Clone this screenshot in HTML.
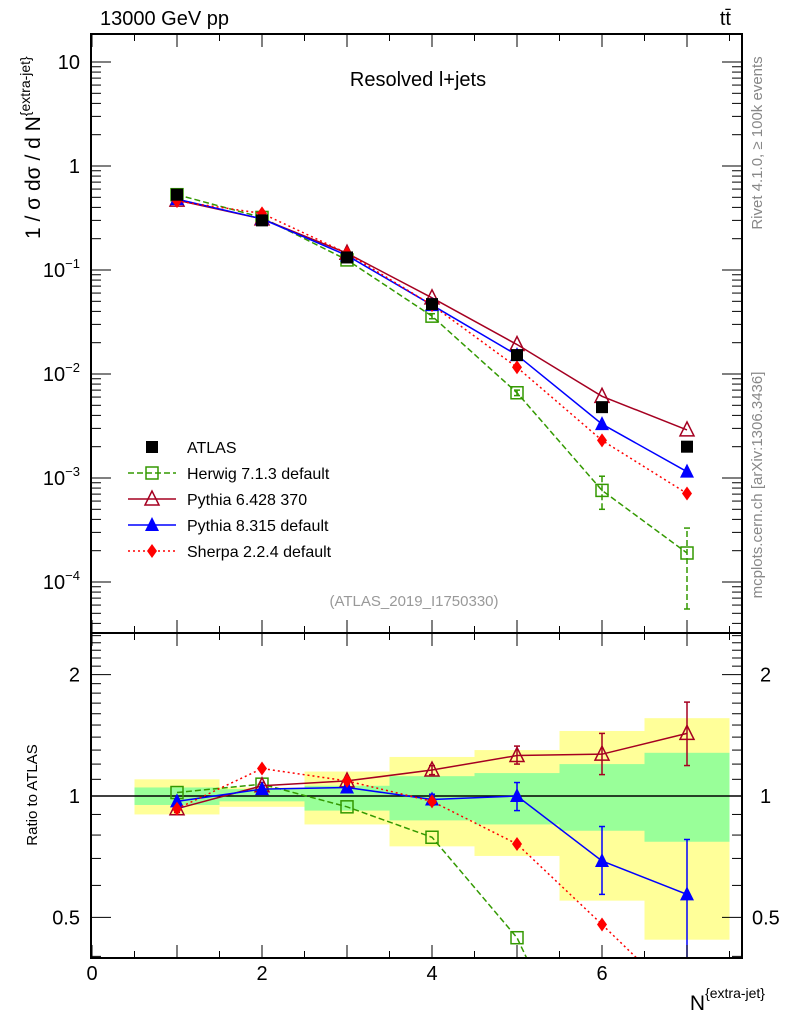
<!DOCTYPE html>
<html><head><meta charset="utf-8"><style>
html,body{margin:0;background:#fff;width:786px;height:1024px;overflow:hidden;}
svg{display:block;font-family:"Liberation Sans",sans-serif;}
</style></head><body>
<svg id="c" width="786" height="1024"></svg>
<script>
const cats=[1,2,3,4,5,6,7];
const atlas=[0.53,0.30,0.132,0.047,0.0152,0.0048,0.0020];
const herwig=[0.53,0.32,0.125,0.036,0.0066,0.00076,0.00019];
const herwigLo=[0.52,0.31,0.12,0.034,0.0062,0.00050,0.000055];
const herwigHi=[0.54,0.33,0.13,0.038,0.0070,0.00104,0.00033];
const py6=[0.47,0.31,0.145,0.054,0.0192,0.0061,0.0029];
const py8=[0.48,0.31,0.138,0.046,0.0152,0.0033,0.00115];
const sherpa=[0.46,0.35,0.145,0.046,0.0116,0.0023,0.00071];
const rHerwig=[1.02,1.07,0.94,0.79,0.445,0.16,0.095];
const rPy6=[0.93,1.06,1.09,1.16,1.26,1.27,1.43];
const rPy6Lo=[0.91,1.04,1.07,1.13,1.20,1.13,1.19];
const rPy6Hi=[0.95,1.08,1.11,1.19,1.33,1.43,1.71];
const rPy8=[0.97,1.04,1.05,0.98,1.0,0.69,0.57];
const rPy8Lo=[0.96,1.03,1.04,0.95,0.92,0.57,0.35];
const rPy8Hi=[0.98,1.05,1.06,1.01,1.08,0.84,0.78];
const rSherpa=[0.93,1.17,1.09,0.97,0.76,0.48,0.30];
const bandYHi=[1.10,1.05,1.15,1.25,1.30,1.45,1.56];
const bandYLo=[0.90,0.94,0.85,0.75,0.71,0.55,0.44];
const bandGHi=[1.05,1.04,1.06,1.12,1.14,1.20,1.28];
const bandGLo=[0.95,0.97,0.92,0.87,0.85,0.82,0.77];
const xTicks=[0,2,4,6];
const yTickVals=[10,1,0.1,0.01,0.001,0.0001];
const yTickLabels=["10","1","10<tspan dy='-9' font-size='13'>−1</tspan>","10<tspan dy='-9' font-size='13'>−2</tspan>","10<tspan dy='-9' font-size='13'>−3</tspan>","10<tspan dy='-9' font-size='13'>−4</tspan>"];
const rTickVals=[2,1,0.5];
const rTickLabels=["2","1","0.5"];

const L=91,R=742,T=34,B=633,RT=633,RB=958;
const X=v=>92+v*85;
const Y=v=>166-104*Math.log10(v);
const RY=v=>796-403*Math.log10(v);
const svg=document.getElementById('c');
const NS='http://www.w3.org/2000/svg';
function mk(tag,attrs,parent,name){const e=document.createElementNS(NS,tag);for(const k in attrs)e.setAttribute(k,attrs[k]);


(parent||svg).appendChild(e);return e;}
function txt(x,y,s,attrs,name){const e=mk('text',Object.assign({x:x,y:y,'font-size':20,fill:'#000'},attrs||{}),svg,name);e.innerHTML=s;return e;}

const defs=mk('defs',{},svg,'defs');
const cp1=mk('clipPath',{id:'cm'},defs,'clip-main');mk('rect',{x:L,y:T,width:R-L,height:B-T},cp1,'clip-rect');
const cp2=mk('clipPath',{id:'cr'},defs,'clip-ratio');mk('rect',{x:L,y:RT,width:R-L,height:RB-RT},cp2,'clip-rect');
const gm=mk('g',{'clip-path':'url(#cm)'},svg,'main-plot-area');
const gr=mk('g',{'clip-path':'url(#cr)'},svg,'ratio-plot-area');

cats.forEach((c,i)=>{
 mk('rect',{x:X(c-0.5),y:RY(bandYHi[i]),width:X(1)-X(0),height:RY(bandYLo[i])-RY(bandYHi[i]),fill:'#ffff99'},gr,'band-total-'+c);
 mk('rect',{x:X(c-0.5),y:RY(bandGHi[i]),width:X(1)-X(0),height:RY(bandGLo[i])-RY(bandGHi[i]),fill:'#99ff99'},gr,'band-stat-'+c);
});
mk('line',{x1:L,x2:R,y1:RY(1),y2:RY(1),stroke:'#000','stroke-width':1.5},gr,'ratio-unity-line');

function marker(g,type,x,y,col,name){
 if(type==='sq') mk('rect',{x:x-6,y:y-6,width:12,height:12,fill:'none',stroke:col,'stroke-width':1.5},g,name);
 else if(type==='fsq') mk('rect',{x:x-6,y:y-6,width:12,height:12,fill:col},g,name);
 else if(type==='otri') mk('polygon',{points:`${x},${y-8} ${x-7},${y+6} ${x+7},${y+6}`,fill:'none',stroke:col,'stroke-width':1.5},g,name);
 else if(type==='tri') mk('polygon',{points:`${x},${y-8} ${x-7},${y+6} ${x+7},${y+6}`,fill:col},g,name);
 else if(type==='dia') mk('polygon',{points:`${x},${y-7} ${x-5},${y} ${x},${y+7} ${x+5},${y}`,fill:col},g,name);
}
function series(g,vals,fy,col,dash,type,name,lo,hi){
 let d='';vals.forEach((v,i)=>{d+=(i?'L':'M')+X(cats[i])+','+fy(v);});
 mk('path',{d:d,fill:'none',stroke:col,'stroke-width':1.5,'stroke-dasharray':dash},g,name+'-line');
 vals.forEach((v,i)=>{
  if(lo&&hi){mk('line',{x1:X(cats[i]),x2:X(cats[i]),y1:fy(lo[i]),y2:fy(hi[i]),stroke:col,'stroke-width':1.5,'stroke-dasharray':dash},g,name+'-err');
   [lo[i],hi[i]].forEach(e=>mk('line',{x1:X(cats[i])-3,x2:X(cats[i])+3,y1:fy(e),y2:fy(e),stroke:col,'stroke-width':1.5},g,name+'-errcap'));}
  marker(g,type,X(cats[i]),fy(v),col,name+'-point');
 });
}
const cH='#339900',c6='#a50021',c8='#0000ff',cS='#ff0000';
series(gm,herwig,Y,cH,'6,3','sq','herwig',herwigLo,herwigHi);
series(gm,py6,Y,c6,'','otri','pythia6');
series(gm,py8,Y,c8,'','tri','pythia8');
series(gm,sherpa,Y,cS,'2,3','dia','sherpa');
atlas.forEach((v,i)=>marker(gm,'fsq',X(cats[i]),Y(v),'#000','atlas-point'));
series(gr,rHerwig,RY,cH,'6,3','sq','ratio-herwig');
series(gr,rPy6,RY,c6,'','otri','ratio-pythia6',rPy6Lo,rPy6Hi);
series(gr,rPy8,RY,c8,'','tri','ratio-pythia8',rPy8Lo,rPy8Hi);
series(gr,rSherpa,RY,cS,'2,3','dia','ratio-sherpa');

mk('rect',{x:L,y:T,width:R-L,height:B-T,fill:'none',stroke:'#000','stroke-width':2},svg,'main-frame');
mk('rect',{x:L,y:RT,width:R-L,height:RB-RT,fill:'none',stroke:'#000','stroke-width':2},svg,'ratio-frame');
for(let k=0;k<=15;k++){const v=k/2,x=X(v),len=k%2?7:13;
 [[T,1],[B,-1],[RT,1],[RB,-1]].forEach(([y,s])=>mk('line',{x1:x,x2:x,y1:y,y2:y+s*len,stroke:'#000','stroke-width':1},svg,'x-tick'));}
xTicks.forEach(v=>txt(X(v),980,String(v),{'text-anchor':'middle'},'x-tick-label'));
for(let e=-5;e<=1;e++)for(let m=1;m<=9;m++){const v=m*Math.pow(10,e),y=Y(v);if(y<T||y>B)continue;const len=m===1?20:10;
 mk('line',{x1:L,x2:L+len,y1:y,y2:y,stroke:'#000'},svg,'y-tick');mk('line',{x1:R,x2:R-len,y1:y,y2:y,stroke:'#000'},svg,'y-tick');}
yTickVals.forEach((v,i)=>txt(80,Y(v)+7,yTickLabels[i],{'text-anchor':'end'},'y-tick-label'));
for(let k=3;k<=25;k++){const v=k/10;const y=RY(v);if(y<RT||y>RB)continue;const len=(v===0.5||v===1||v===2)?20:10;
 mk('line',{x1:L,x2:L+len,y1:y,y2:y,stroke:'#000'},svg,'ratio-tick');mk('line',{x1:R,x2:R-len,y1:y,y2:y,stroke:'#000'},svg,'ratio-tick');}
rTickVals.forEach((v,i)=>{txt(80,RY(v)+7,rTickLabels[i],{'text-anchor':'end'},'ratio-tick-label-left');txt(v===0.5?752:760,RY(v)+7,rTickLabels[i],{'text-anchor':'start'},'ratio-tick-label-right');});
txt(100,25,'13000 GeV pp',{},'energy-label');
txt(731,25,'tt̄',{'text-anchor':'end'},'process-label');
txt(418,86,'Resolved l+jets',{'text-anchor':'middle'},'plot-title');
txt(414,606,'(ATLAS_2019_I1750330)',{'text-anchor':'middle','font-size':15,fill:'#999'},'analysis-id');
txt(0,0,'Rivet 4.1.0, ≥ 100k events',{'text-anchor':'middle','font-size':15,fill:'#888',transform:'translate(762,143) rotate(-90)'},'rivet-label');
txt(0,0,'mcplots.cern.ch [arXiv:1306.3436]',{'text-anchor':'middle','font-size':15,fill:'#888',transform:'translate(762,485) rotate(-90)'},'mcplots-label');
txt(0,0,'1 / σ dσ / d N<tspan dy="-10" font-size="14">{extra-jet}</tspan>',{'text-anchor':'start','font-size':21,transform:'translate(40,239) rotate(-90)'},'y-axis-title');
txt(0,0,'Ratio to ATLAS',{'text-anchor':'middle','font-size':15,transform:'translate(37,795) rotate(-90)'},'ratio-axis-title');
txt(765,1010,'N<tspan dy="-12" font-size="14">{extra-jet}</tspan>',{'text-anchor':'end','font-size':21},'x-axis-title');
const legNames=['ATLAS','Herwig 7.1.3 default','Pythia 6.428 370','Pythia 8.315 default','Sherpa 2.2.4 default'];
const legCols=['#000',cH,c6,c8,cS],legDash=['','6,3','','','2,3'],legType=['fsq','sq','otri','tri','dia'];
legNames.forEach((n,i)=>{const y=447+i*26;
 if(i>0)mk('line',{x1:128,x2:176,y1:y,y2:y,stroke:legCols[i],'stroke-width':1.5,'stroke-dasharray':legDash[i]},svg,'legend-line');
 marker(svg,legType[i],152,y,legCols[i],'legend-marker');
 txt(187,y+6,n,{'font-size':16},'legend-entry');});
</script>
</body></html>
